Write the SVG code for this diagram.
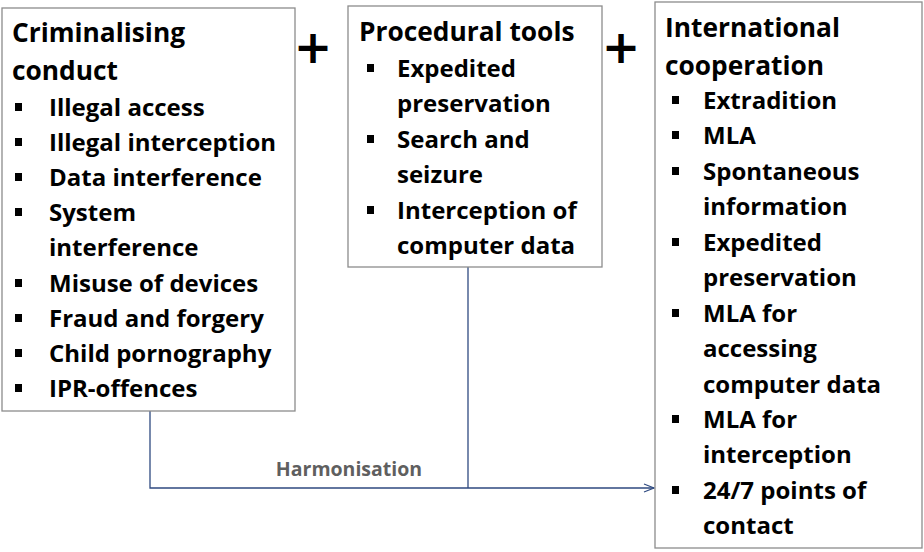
<svg xmlns="http://www.w3.org/2000/svg" width="924" height="552" viewBox="0 0 924 552">
<style>
.box{fill:#fff;stroke:#8c8c8c;stroke-width:1.3}
.t{font-family:"Open Sans","Liberation Sans",sans-serif;font-weight:bold;fill:#000}
.h{font-size:26.3px}
.i{font-size:24px}
.b{fill:#000}
.plus{font-family:"DejaVu Sans",sans-serif;font-weight:bold;font-size:46px}
.con{fill:none;stroke:#2f4a80;stroke-width:1.3}
.lbl{font-family:"Open Sans","Liberation Sans",sans-serif;font-weight:bold;font-size:19.5px;fill:#5f5f5f}
</style>
<defs>
<marker id="arr" markerWidth="12" markerHeight="10" refX="11" refY="5" orient="auto" markerUnits="userSpaceOnUse">
<path d="M1,1 L11,5 L1,9" fill="none" stroke="#2f4a80" stroke-width="1.2"/>
</marker>
</defs>
<g id="connectors">
<path class="con" d="M150,411 V488 H654" marker-end="url(#arr)"/>
<path class="con" d="M468,267 V488" stroke="#8eaad8"/>
<text class="lbl" x="349" y="476" text-anchor="middle">Harmonisation</text>
</g>
<g id="criminalising">
<rect class="box" x="2" y="8" width="293" height="403"/>
<text class="t h" x="12" y="42">Criminalising</text>
<text class="t h" x="12" y="80">conduct</text>
<g class="b">
<rect x="15" y="103" width="7" height="8"/><rect x="15" y="138" width="7" height="8"/><rect x="15" y="173" width="7" height="8"/><rect x="15" y="208" width="7" height="8"/><rect x="15" y="279" width="7" height="8"/><rect x="15" y="314" width="7" height="8"/><rect x="15" y="349" width="7" height="8"/><rect x="15" y="384" width="7" height="8"/>
</g>
<text class="t i" x="49" y="116">Illegal access</text>
<text class="t i" x="49" y="151">Illegal interception</text>
<text class="t i" x="49" y="186">Data interference</text>
<text class="t i" x="49" y="221">System</text>
<text class="t i" x="49" y="256">interference</text>
<text class="t i" x="49" y="292">Misuse of devices</text>
<text class="t i" x="49" y="327">Fraud and forgery</text>
<text class="t i" x="49" y="362">Child pornography</text>
<text class="t i" x="49" y="397">IPR-offences</text>
</g>
<g id="plus1"><text class="plus" x="313" y="63" text-anchor="middle">+</text></g>
<g id="procedural">
<rect class="box" x="348" y="6" width="254" height="261"/>
<text class="t h" x="359" y="41">Procedural tools</text>
<g class="b">
<rect x="367" y="64" width="7" height="8"/><rect x="367" y="135" width="7" height="8"/><rect x="367" y="206" width="7" height="8"/>
</g>
<text class="t i" x="397" y="77">Expedited</text>
<text class="t i" x="397" y="112">preservation</text>
<text class="t i" x="397" y="148">Search and</text>
<text class="t i" x="397" y="183">seizure</text>
<text class="t i" x="397" y="219">Interception of</text>
<text class="t i" x="397" y="254">computer data</text>
</g>
<g id="plus2"><text class="plus" x="621" y="63" text-anchor="middle">+</text></g>
<g id="international">
<rect class="box" x="655" y="2" width="267" height="546"/>
<text class="t h" x="665" y="37">International</text>
<text class="t h" x="665" y="75">cooperation</text>
<g class="b">
<rect x="672" y="96" width="7" height="8"/><rect x="672" y="131" width="7" height="8"/><rect x="672" y="167" width="7" height="8"/><rect x="672" y="238" width="7" height="8"/><rect x="672" y="309" width="7" height="8"/><rect x="672" y="415" width="7" height="8"/><rect x="672" y="486" width="7" height="8"/>
</g>
<text class="t i" x="703" y="109">Extradition</text>
<text class="t i" x="703" y="144">MLA</text>
<text class="t i" x="703" y="180">Spontaneous</text>
<text class="t i" x="703" y="215">information</text>
<text class="t i" x="703" y="251">Expedited</text>
<text class="t i" x="703" y="286">preservation</text>
<text class="t i" x="703" y="322">MLA for</text>
<text class="t i" x="703" y="357">accessing</text>
<text class="t i" x="703" y="393">computer data</text>
<text class="t i" x="703" y="428">MLA for</text>
<text class="t i" x="703" y="463">interception</text>
<text class="t i" x="703" y="499">24/7 points of</text>
<text class="t i" x="703" y="534">contact</text>
</g>
</svg>
